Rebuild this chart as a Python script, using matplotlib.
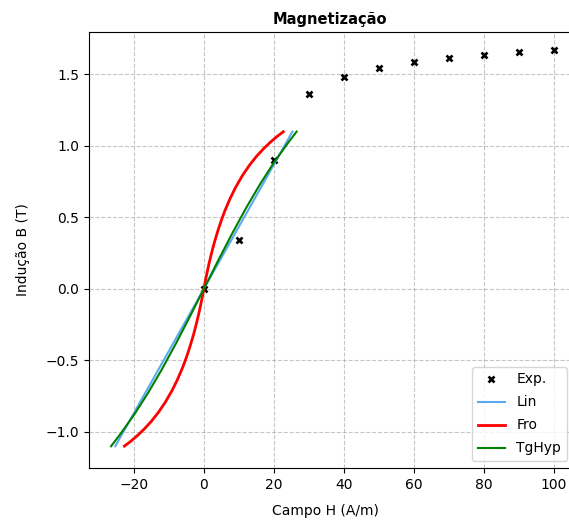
import matplotlib
matplotlib.use("Agg")
import matplotlib.pyplot as plt

# Experimental data
H_exp = [0, 10, 20, 30, 40, 50, 60, 70, 80, 90, 100]
B_exp = [0.0, 0.34, 0.905, 1.363, 1.48, 1.545, 1.587, 1.614, 1.636, 1.655, 1.668]

# Linear model curve
H_lin = [-25.3, -12.6, 0.0, 12.6, 25.3]
B_lin = [-1.10, -0.548, 0.0, 0.548, 1.10]

# Frohlich model curve
H_fro = [-22.7, -21, -19, -17, -15, -13, -11, -9, -7.5, -6, -5, -4, -3, -2.5, -2, -1.5,
         -1, -0.5, 0, 0.5, 1, 1.5, 2, 2.5, 3, 4, 5, 6, 7.5, 9, 11, 13, 15, 17, 19, 21, 22.7]
B_fro = [-1.099, -1.068, -1.026, -0.979, -0.926, -0.864, -0.792, -0.707, -0.632, -0.546,
         -0.480, -0.406, -0.324, -0.279, -0.230, -0.179, -0.123, -0.064, 0.0, 0.064,
         0.123, 0.179, 0.230, 0.279, 0.324, 0.406, 0.480, 0.546, 0.632, 0.707, 0.792,
         0.864, 0.926, 0.979, 1.026, 1.068, 1.099]

# Hyperbolic tangent model curve
H_tgh = [-26.5, -24, -20, -16, -12, -8, -4, 0, 4, 8, 12, 16, 20, 24, 26.5]
B_tgh = [-1.10, -1.02, -0.883, -0.73, -0.563, -0.383, -0.194, 0.0, 0.194, 0.383, 0.563,
         0.73, 0.883, 1.02, 1.10]

fig = plt.figure(figsize=(5.69, 5.23), dpi=100)
ax = fig.add_axes([0.1564, 0.1052, 0.8559, 0.8337])

ax.plot(H_exp, B_exp, linestyle="none", marker="x", color="black", markersize=3.8,
        markeredgewidth=1.9, label="Exp.")
ax.plot(H_lin, B_lin, color="#5aaaf0", linewidth=1.5, label="Lin")
ax.plot(H_fro, B_fro, color="red", linewidth=2, label="Fro")
ax.plot(H_tgh, B_tgh, color="green", linewidth=1.5, label="TgHyp")

ax.set_xlim(-32.8, 106.3)
ax.set_ylim(-1.252, 1.797)
ax.grid(True, linestyle="--", color="gray", alpha=0.45)
ax.set_title("Magnetização", fontsize=10.5, fontweight="bold", x=0.494)
ax.set_xlabel("Campo H (A/m)")
ax.xaxis.set_label_coords(0.485, -0.083)
ax.set_ylabel("Indução B (T)", labelpad=11)
ax.set_xticks([-20, 0, 20, 40, 60, 80, 100])
ax.set_yticks([-1.0, -0.5, 0.0, 0.5, 1.0, 1.5])
ax.legend(loc="lower right", fontsize=10, labelspacing=0.65,
          bbox_to_anchor=(0.9955, 0.0))

fig.savefig("out.png", dpi=100)
